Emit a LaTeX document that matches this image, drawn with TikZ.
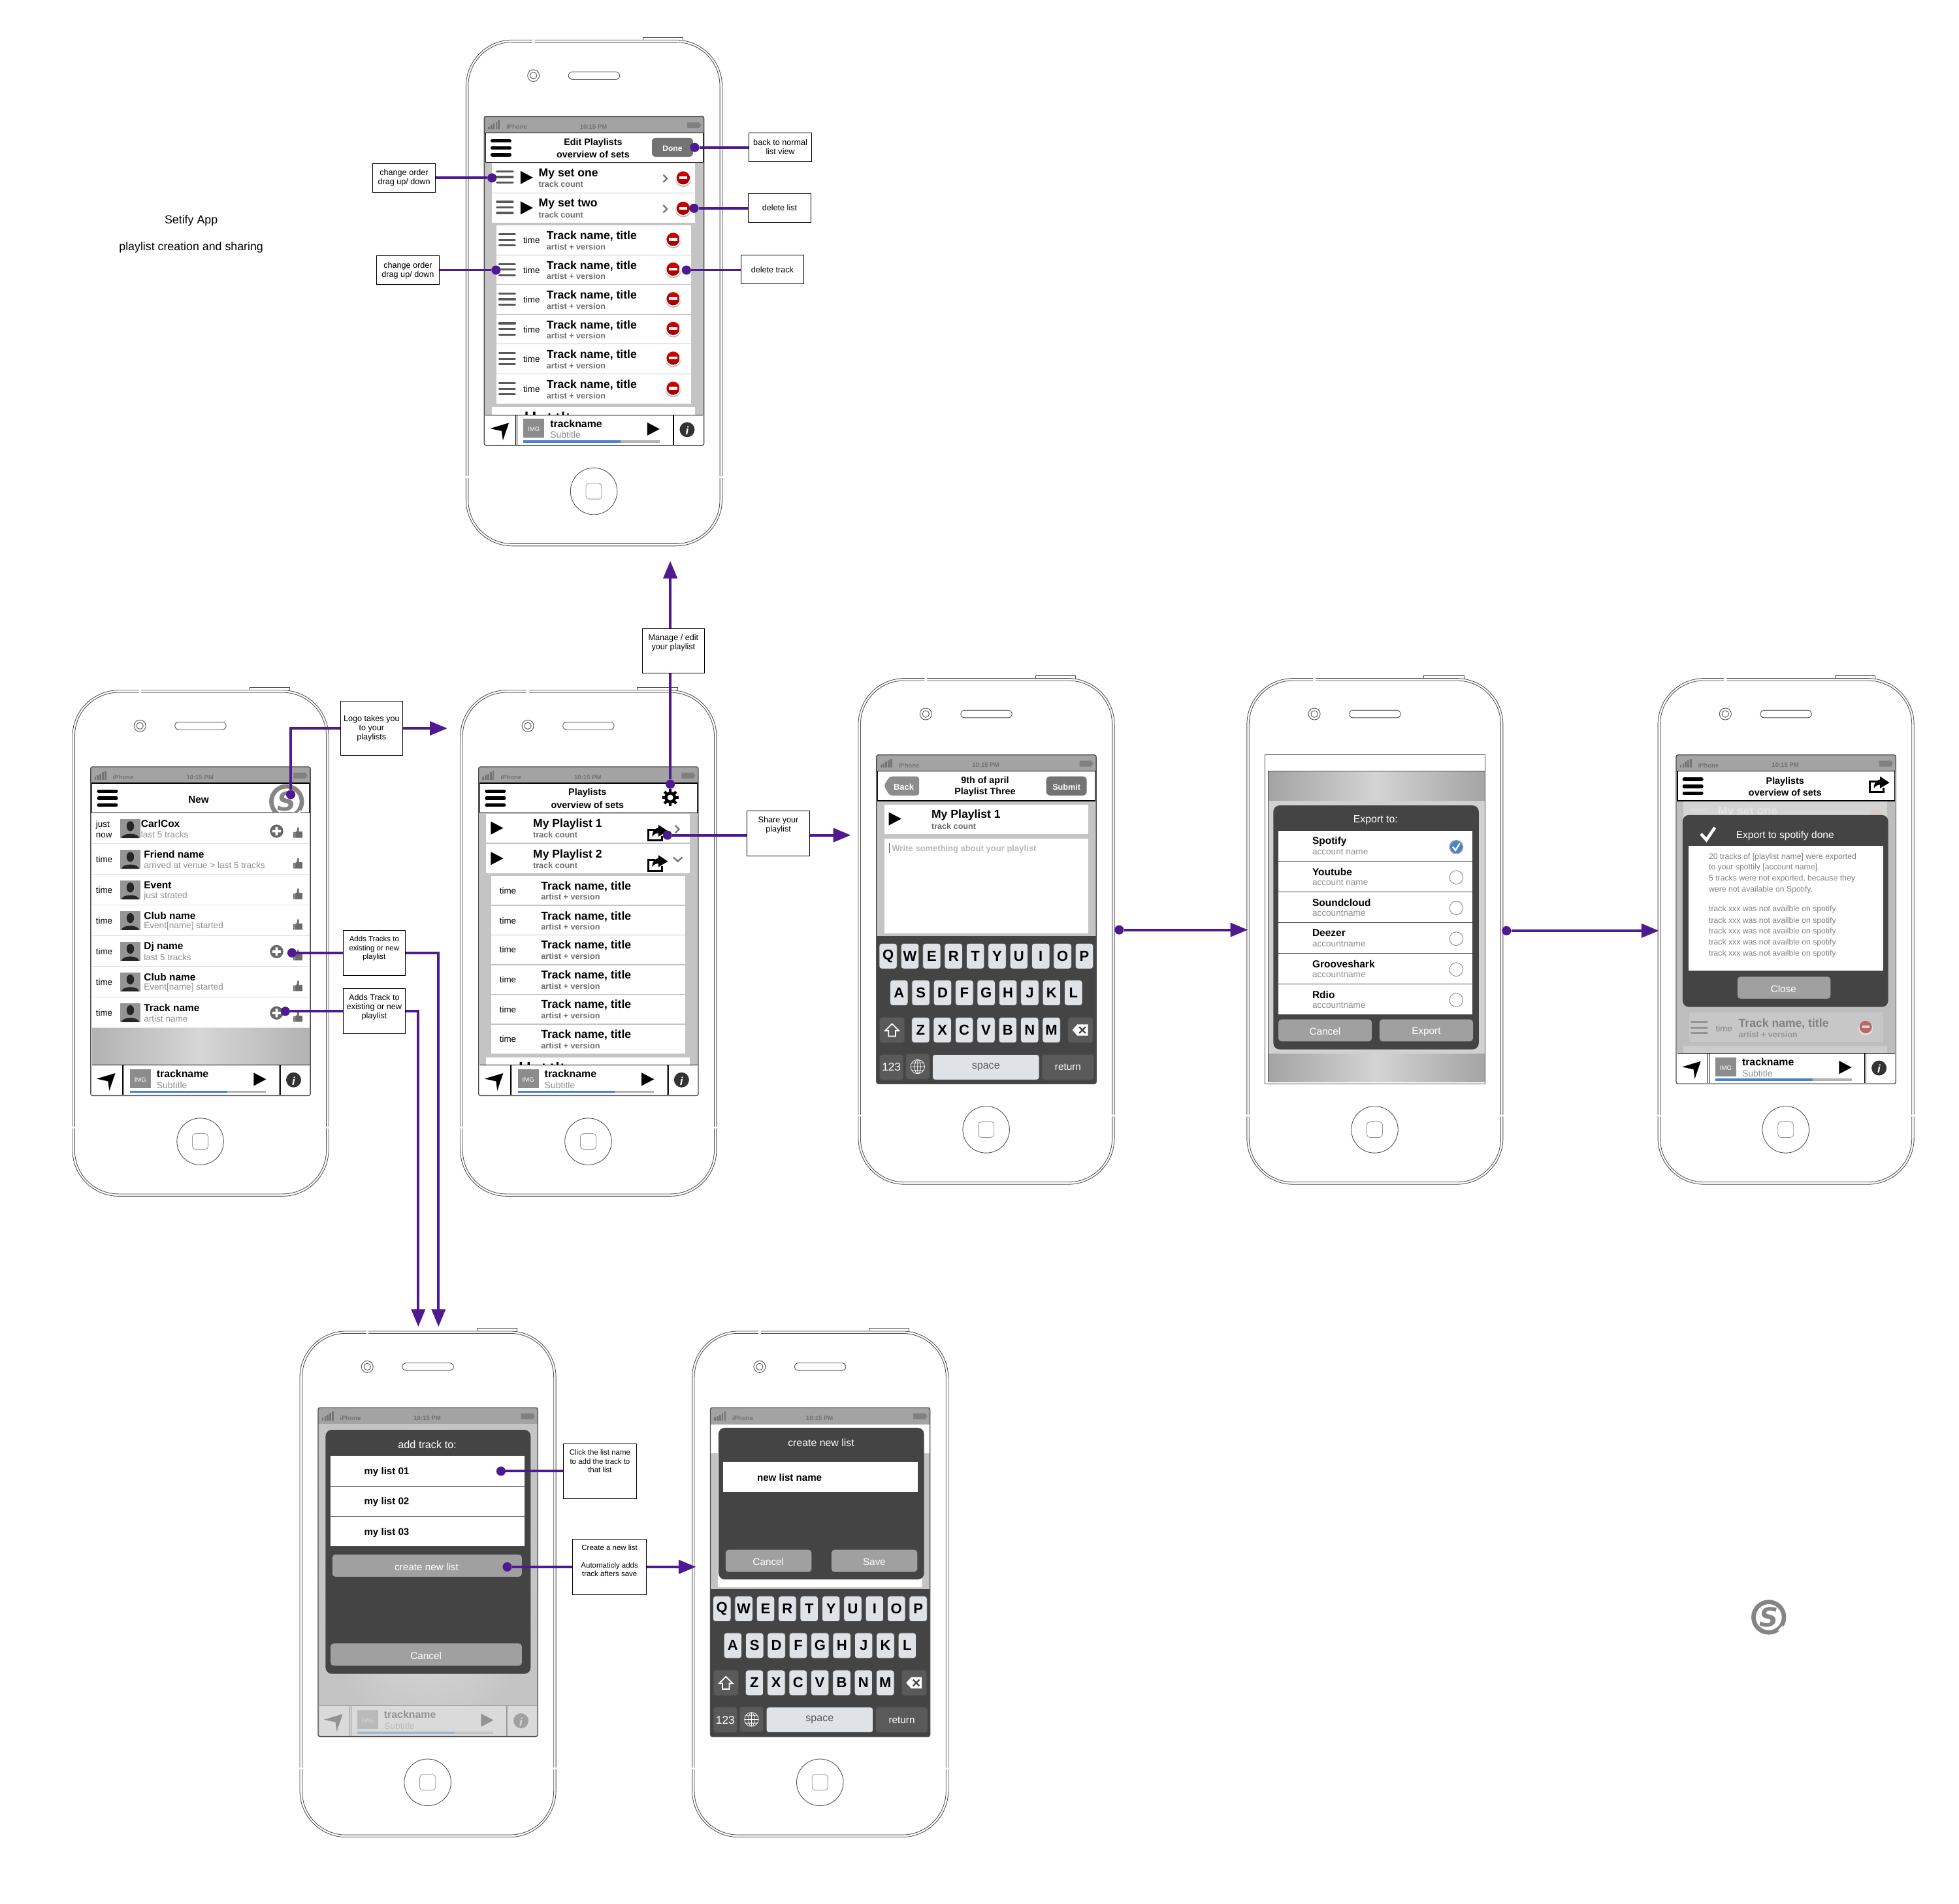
\documentclass[tikz,border=0pt]{standalone}
\usepackage{fontspec}
\setmainfont{Liberation Sans}
\newfontfamily\logofont{DejaVu Sans}
\usetikzlibrary{arrows.meta}

\definecolor{linkpurple}{HTML}{4F1A91}
\definecolor{panelgray}{HTML}{C4C4C4}
\definecolor{dialogdark}{HTML}{444444}
\definecolor{btngray}{HTML}{A0A0A0}
\definecolor{statusgray}{HTML}{A3A3A3}
\definecolor{logogray}{HTML}{858585}
\definecolor{keylight}{HTML}{DFE3E8}
\definecolor{keydark}{HTML}{5A5A5A}
\definecolor{subgray}{HTML}{6E6E6E}
\definecolor{softgray}{HTML}{8E8E8E}
\definecolor{bluebar}{HTML}{4A84C8}

\newcommand\fs[1]{\fontsize{#1}{#1}\selectfont}

\tikzset{
  every node/.style={inner sep=0pt},
  link/.style={draw=linkpurple,line width=2pt},
  linkarrow/.style={link,-{Triangle[length=14pt,width=11pt]}},
  dotmark/.style={circle,fill=linkpurple,minimum size=7.4pt},
  callout/.style={draw=black,fill=white,line width=.5pt,align=center,font=\fontsize{6.6}{7.4}\selectfont},
  tname/.style={anchor=west,font=\fs{9.2}\bfseries},
  tsub/.style={anchor=west,yshift=.8pt,font=\fs{6.6}\bfseries,text=subgray},
  feedname/.style={anchor=west,yshift=.5pt,font=\fs{8.1}\bfseries},
  feedsub/.style={anchor=west,yshift=.7pt,font=\fs{7.1},text=softgray},
  timelbl/.style={font=\fs{7}},
  navtitle/.style={align=center,yshift=.5pt,font=\fs{7.5}\bfseries},
  statustext/.style={font=\fs{5}\bfseries,text=black!55},
  btntext/.style={font=\fs{8},text=white},
  dlgtitle/.style={font=\fs{8.3},text=white},
  listitem/.style={anchor=west,font=\fs{7.9}\bfseries},
  infotext/.style={anchor=west,font=\fs{6.4},text=black!50},
  keycap/.style={yshift=.8pt,draw=black!70,fill=keylight,rounded corners=2pt,minimum width=14.3pt,minimum height=20.3pt,font=\fs{11.5}\bfseries},
  darkkey/.style={yshift=.8pt,draw=black!70,fill=keydark,rounded corners=2pt,minimum height=20.3pt,text=white},
  phoneline/.style={draw=black!70,line width=.45pt},
  tinybar/.style={line width=1.7pt,line cap=round},
  softband/.style={left color=black!36,right color=black!36,middle color=black!17},
}

\newcounter{lblno}
\newcommand\lbl[4][]{\stepcounter{lblno}\node[yshift=-.8pt,#1] (lbl\arabic{lblno}) at (#2,#3) {#4};}

% phone outline, camera, speaker and home key
\newcommand\phonebody{
  \draw[phoneline] (141.7,0) -- (141.7,-2.2) -- (173.7,-2.2) -- (173.7,0);
  \draw[phoneline,fill=white,rounded corners=37pt] (0,0) rectangle (205,405);
  \draw[phoneline,rounded corners=35pt] (1.8,1.8) rectangle (203.2,403.2);
  \fill[white] (53,-.5) rectangle (55,2.5) (-.5,349.3) rectangle (2.5,350.7) (202.5,349.3) rectangle (205.5,350.7);
  \draw[phoneline] (54,28.5) circle (4.7) (54,28.5) circle (2.7);
  \draw[phoneline,rounded corners=3pt] (82,25.5) rectangle (123,31.5);
  \draw[phoneline] (102.3,361.2) circle (18.7);
  \draw[draw=black!40,line width=.45pt,rounded corners=2.5pt] (96,354.9) rectangle (108.6,367.5);
}
\newcommand\statusbar{
  \fill[statusgray] (14.6,61.3) rectangle (190.4,75);
  \foreach \i in {0,...,4} {\fill[black!55] (17.6+\i*2,71.5) rectangle (19+\i*2,69.2-\i*1.2);}
  \lbl[statustext,anchor=west]{32}{68.8}{iPhone}
  \lbl[statustext]{102}{68.8}{10:15 PM}
  \fill[black!50] (177,65.9) rectangle (187,70.6) (187,67.4) rectangle (188,69);
}
\newcommand\menubars[3]{
  \draw[line width=#3,line cap=round] (#1,80.8) -- (#2,80.8) (#1,86.4) -- (#2,86.4) (#1,92) -- (#2,92);
}
\newcommand\navbar{
  \draw[fill=white,line width=.6pt] (15.6,74.4) rectangle (189.7,98);
}
\newcommand\handle[3][black!65]{
  \draw[tinybar,draw=#1] (#2,#3-4.5) -- ++(12.6,0) (#2,#3) -- ++(12.6,0) (#2,#3+4.5) -- ++(12.6,0);
}
\newcommand\playicon[3][black]{\fill[#1] (#2,#3-5.3) -- ++(10,5.3) -- ++(-10,5.3) -- cycle;}
\newcommand\chevron[2]{\draw[black!55,line width=1.2pt] (#1-1.5,#2-3) -- (#1+1.5,#2) -- (#1-1.5,#2+3);}
\newcommand\delicon[2]{
  \fill[black!25] (#1,#2+.9) circle (6.3);
  \fill[white] (#1,#2) circle (6.1);
  \shade[top color=red!85!black,bottom color=red!62!black] (#1,#2) circle (5.3);
  \fill[white] (#1-3.3,#2-1.1) rectangle (#1+3.3,#2+1.1);
}
\newcommand\plusicon[2]{
  \fill[black!60] (#1,#2) circle (5.3);
  \fill[white] (#1-3.4,#2-1) rectangle (#1+3.4,#2+1) (#1-1,#2-3.4) rectangle (#1+1,#2+3.4);
}
\newcommand\thumbicon[2]{
  \fill[black!58,shift={(#1,#2)}] (-3.6,-.5) rectangle (-2.6,4) (-2.2,-.5) -- (-.8,-1.3) -- (-.3,-4.4) -- (.8,-4.4) -- (.9,-1) -- (3.6,-1) -- (3.6,4) -- (-2.2,4) -- cycle;
}
\newcommand\avatar[2]{
  \fill[black!42] (#1,#2) rectangle ++(16,15);
  \fill[black!85] (#1+8,#2+5.5) ellipse (3 and 4);
  \fill[black!85] (#1+1,#2+15) .. controls (#1+1.5,#2+10.5) and (#1+14.5,#2+10.5) .. (#1+15,#2+15) -- cycle;
}
\newcommand\shareicon[2]{
  \begin{scope}[shift={(#1,#2)}]
    \draw[line width=1.5pt] (-1.5,-2.5) -- (-7,-2.5) -- (-7,6) -- (4,6) -- (4,2.5);
    \fill (8.5,-1.5) -- (1,-6.5) -- (1,-4) .. controls (-3,-3.5) and (-4,0) .. (-4,3) .. controls (-2.5,.5) and (0,.2) .. (1,.2) -- (1,3) -- cycle;
  \end{scope}
}
\newcommand\setifylogo[2]{
  \draw[logogray,line width=3.5pt] (#1,#2) circle (12.2);
  \fill[white] (#1+7.2,#2+10.8) -- (#1+11.2,#2+6.4) -- (#1+11.4,#2+11) -- cycle;
  \lbl[font=\logofont\fs{21}\bfseries\itshape,text=logogray,yshift=.8pt]{#1}{#2}{S}
}
\newcommand\setstub{
  \fill (47.5,297.6) rectangle (49.3,300) (53.7,297.6) rectangle (55.5,300) (66,298.8) rectangle (67.4,300) (72.6,298.8) rectangle (74,300) (77,297.6) rectangle (78.4,300) (81,298.8) rectangle (82.2,300);
}
\newcommand\playerbar{
  \fill[white] (15.6,300) rectangle (189.7,324);
  \draw[line width=.5pt] (15.6,300) -- (189.7,300) (40,300) -- (40,324) (41,300) -- (41,324) (165.6,300) -- (165.6,324) (166.4,300) -- (166.4,324);
  \fill (19.3,311) -- (34.3,306.5) -- (29.5,320.6) -- (28.5,313) -- cycle;
  \fill[black!45] (46,303.3) rectangle (62.7,318.5);
  \lbl[font=\fs{5},text=white]{54.3}{311}{IMG}
  \lbl[anchor=west,font=\fs{8.3}\bfseries]{67.2}{306.2}{trackname}
  \lbl[anchor=west,font=\fs{7.3},text=softgray]{67.2}{315.4}{Subtitle}
  \playicon{145}{311.4}
  \fill[black!30] (46,320.4) rectangle (155,322.4);
  \fill[bluebar] (46,320.4) rectangle (123.7,322.4);
  \fill[black!80] (177,311.9) circle (6);
  \lbl[font=\fs{9}\bfseries\itshape,text=white]{177}{311.9}{i}
}
\newcommand\screenedge{
  \draw[black!70,line width=.7pt,rounded corners=1.5pt] (14.6,61.3) rectangle (190.4,324.5);
}
\newcommand\setrow[3]{
  \fill[white] (20.5,#1) rectangle (183.5,#1+23.5);
  \playicon{#2}{#1+11.6}
  \lbl[tname]{58}{#1+7.8}{#3}
  \lbl[tsub]{58}{#1+17}{track count}
}
\newcommand\trackrow[2]{
  \fill[white] (24.6,#1) rectangle (180,#1+23.2);
  \lbl[timelbl]{#2}{#1+11}{time}
  \lbl[tname]{64.4}{#1+7.7}{Track name, title}
  \lbl[tsub]{64.4}{#1+17}{artist + version}
}
\newcommand\feedrow[4]{
  \fill[white] (15.6,#1) rectangle (189.7,#1+24.1);
  \avatar{38.3}{#1+4.9}
  \lbl[feedname]{#2}{#1+8.3}{#3}
  \lbl[feedsub]{#2}{#1+17}{#4}
  \thumbicon{180.4}{#1+15.7}
}
\newcommand\keyboard{
  \fill[dialogdark] (14.6,206.3) rectangle (190.2,324.2);
  \foreach \k [count=\i from 0] in {Q,W,E,R,T,Y,U,I,O,P} {\lbl[keycap]{\i*17.45+16.7+7.15}{222.3}{\k}}
  \foreach \k [count=\i from 0] in {A,S,D,F,G,H,J,K,L} {\lbl[keycap]{\i*17.45+25.4+7.15}{251.7}{\k}}
  \foreach \k [count=\i from 0] in {Z,X,C,V,B,N,M} {\lbl[keycap]{\i*17.45+42.7+7.15}{281.5}{\k}}
  \lbl[darkkey,minimum width=20pt]{27}{281.5}{}
  \draw[white,line width=.9pt] (27,276.5) -- (32.5,282) -- (29.8,282) -- (29.8,286.5) -- (24.2,286.5) -- (24.2,282) -- (21.5,282) -- cycle;
  \lbl[darkkey,minimum width=20pt]{177.8}{281.5}{}
  \fill[white] (171.3,281.5) -- (175.3,277) -- (183.8,277) -- (183.8,286) -- (175.3,286) -- cycle;
  \draw[dialogdark,line width=1.2pt] (176.8,279) -- (181.8,284) (176.8,284) -- (181.8,279);
  \lbl[darkkey,minimum width=19pt,font=\fs{9}]{26.5}{311.2}{123}
  \lbl[darkkey,minimum width=19pt]{47.5}{310.8}{}
  \draw[white,line width=.4pt] (47.5,310.8) circle (5.6) (47.5,310.8) ellipse (2.4 and 5.6) (41.9,310.8) -- (53.1,310.8) (42.7,307.8) -- (52.3,307.8) (42.7,313.8) -- (52.3,313.8) (47.5,305.2) -- (47.5,316.4);
  \lbl[keycap,minimum width=85.4pt,font=\fs{8.4},text=black!65]{102.1}{311.2}{space}
  \lbl[darkkey,minimum width=41.5pt,font=\fs{8}]{167.8}{311.2}{return}
}

\begin{document}
\begin{tikzpicture}[x=1pt,y=-1pt]
\useasboundingbox (0,0) rectangle (1568,1524);

\node[font=\fs{9.3}] (appname) at (153,176.6) {Setify App};
\node[font=\fs{9.3}] (apptag) at (153,198.3) {playlist creation and sharing};

% edit playlists
\begin{scope}[shift={(373,32)}]
  \phonebody
  \statusbar
  \fill[panelgray] (15,98) rectangle (190,300);
  \navbar
  \menubars{21}{35}{2.8pt}
  \lbl[navtitle]{101.7}{82}{Edit Playlists}
  \lbl[navtitle]{101.7}{91.4}{overview of sets}
  \fill[black!55,rounded corners=3pt] (148.8,78.3) rectangle (181.7,93.5);
  \lbl[font=\fs{6.3}\bfseries,text=white]{165.2}{86}{Done}
  \foreach \y/\t in {98.5/My set one,122.8/My set two} {
    \setrow{\y}{43.6}{\t}
    \handle{24.8}{\y+11.2}
    \chevron{159.4}{\y+12.4}
    \delicon{173.8}{\y+11.9}
  }
  \foreach \y in {148.6,172.4,196.1,219.9,243.7,267.8} {
    \trackrow{\y}{52.5}
    \handle{26.6}{\y+11.4}
    \delicon{165.8}{\y+11}
  }
  \fill[white] (20.5,293.5) rectangle (183.5,300);
  \setstub
  \playerbar
  \screenedge
\end{scope}

% new feed
\begin{scope}[shift={(58,552.5)}]
  \phonebody
  \statusbar
  \shade[left color=black!30,right color=black!30,middle color=black!16] (15.6,270) rectangle (189.7,300);
  \navbar
  \menubars{21}{35}{2.8pt}
  \lbl[font=\fs{8}\bfseries]{101}{86.7}{New}
  \setifylogo{171.4}{89.1}
  \foreach \y/\x/\t/\s [count=\i] in {98.4/54.7/CarlCox/last 5 tracks,123/57/Friend name/arrived at venue > last 5 tracks,147.5/57/Event/just strated,172/57/Club name/Event[name] started,196.6/57/Dj name/last 5 tracks,221.1/57/Club name/Event[name] started,245.7/57/Track name/artist name} {
    \feedrow{\y}{\x}{\t}{\s}
    \ifnum\i>1 \lbl[timelbl,anchor=west]{18.6}{\y+11.8}{time}\fi
    \draw[black!12,line width=.6pt] (15.6,\y+24.3) -- (189.7,\y+24.3);
  }
  \lbl[timelbl,anchor=west]{18.6}{107.2}{just}
  \lbl[timelbl,anchor=west]{18.6}{115.2}{now}
  \plusicon{163.4}{112.8}
  \plusicon{163.4}{209.2}
  \plusicon{163.4}{258.3}
  \playerbar
  \screenedge
\end{scope}

% playlists overview
\begin{scope}[shift={(368.5,552.5)}]
  \phonebody
  \statusbar
  \fill[panelgray] (15,98) rectangle (190,300);
  \navbar
  \menubars{21}{35}{2.8pt}
  \lbl[navtitle]{101.7}{82}{Playlists}
  \lbl[navtitle]{101.7}{91.7}{overview of sets}
  \fill (168,85.9) circle (4.7);
  \foreach \a in {0,45,...,315} {\draw[line width=2.2pt] (168,85.9) -- ++(\a:6.6);}
  \fill[white] (168,85.9) circle (2.3);
  \foreach \y/\t in {98.7/My Playlist 1,123/My Playlist 2} {
    \setrow{\y}{24.3}{\t}
    \shareicon{157.5}{\y+15.5}
  }
  \chevron{173.5}{111.2}
  \draw[black!55,line width=1.2pt] (170.5,133.7) -- (174,137) -- (177.5,133.7);
  \foreach \y in {148.6,172.6,196,220,243.6,267.6} {
    \trackrow{\y}{38}
  }
  \fill[white] (20.5,293.9) rectangle (183.5,300);
  \setstub
  \playerbar
  \screenedge
\end{scope}

% playlist description
\begin{scope}[shift={(687,543)}]
  \phonebody
  \statusbar
  \fill[panelgray] (15,98) rectangle (190,206.3);
  \navbar
  \fill[black!45,rounded corners=2pt] (25,78.5) -- (48.7,78.5) -- (48.7,93.7) -- (25,93.7) -- (20.4,86) -- cycle;
  \lbl[font=\fs{6.8}\bfseries,text=white]{36.4}{86}{Back}
  \fill[black!55,rounded corners=3pt] (150.4,78.5) rectangle (182.8,93.7);
  \lbl[font=\fs{6.6}\bfseries,text=white]{166.6}{86}{Submit}
  \lbl[navtitle]{101.4}{81.7}{9th of april}
  \lbl[navtitle]{101.4}{91}{Playlist Three}
  \fill[white] (21,101.2) rectangle (183.8,124.6);
  \playicon{24.4}{112.4}
  \lbl[tname]{58.4}{108.9}{My Playlist 1}
  \lbl[tsub]{58.4}{118.2}{track count}
  \fill[white] (21,128.4) rectangle (183.8,204.1);
  \draw[black!70,line width=.5pt] (25,132) -- (25,140);
  \lbl[anchor=west,font=\fs{6.8}\bfseries,text=black!28]{26.7}{135.8}{Write something about your playlist}
  \keyboard
  \screenedge
\end{scope}

% export choice
\begin{scope}[shift={(998,543)}]
  \phonebody
  \shade[softband] (17.2,74) rectangle (190.6,98);
  \shade[softband] (17.2,300.5) rectangle (190.6,323);
  \fill[black!18] (17.2,98) rectangle (190.6,300.5);
  \draw[black!70,line width=.6pt] (17.2,323) -- (17.2,74) -- (190.6,74);
  \fill[dialogdark,rounded corners=5pt] (21.2,101.7) rectangle (185.6,297);
  \lbl[dlgtitle]{103}{112.9}{Export to:}
  \foreach \y/\t/\s [count=\i] in {122.2/Spotify/account name,146.5/Youtube/account name,171/Soundcloud/accountname,195.6/Deezer/accountname,220.2/Grooveshark/accountname,244.7/Rdio/accountname} {
    \fill[white] (25.2,\y) rectangle (180.6,\y+24);
    \lbl[feedname]{52.2}{\y+8}{\t}
    \lbl[feedsub]{52.2}{\y+16.8}{\s}
    \draw[black!45,fill=white,line width=.5pt] (167.6,\y+12.8) circle (5.4);
  }
  \fill[bluebar] (167.6,135) circle (5);
  \draw[white,line width=1.2pt] (164.8,134.8) -- (167,137.6) -- (170.4,132);
  \fill[btngray,rounded corners=2.5pt] (25.2,273) rectangle (100,290.6);
  \fill[btngray,rounded corners=2.5pt] (106.2,273) rectangle (181,290.6);
  \lbl[btntext]{62.5}{282}{Cancel}
  \lbl[btntext]{143.6}{282}{Export}
  \draw[black!70,line width=.7pt] (14.6,324.5) -- (14.6,61.3) -- (190.6,61.3) -- (190.6,324.5) -- cycle;
\end{scope}

% export done
\begin{scope}[shift={(1327,543)}]
  \phonebody
  \statusbar
  \fill[black!26] (15,98) rectangle (190,300);
  \fill[black!17] (20.5,98) rectangle (183.5,112);
  \draw[tinybar,draw=black!14] (26,105) -- ++(13,0);
  \lbl[tname,text=black!11]{47.8}{106.2}{My set one}
  \fill[red!30!black!20] (174.4,110) circle (5.2);
  \navbar
  \menubars{21}{35}{2.8pt}
  \lbl[navtitle]{101.8}{82.4}{Playlists}
  \lbl[navtitle]{101.8}{91.2}{overview of sets}
  \shareicon{176.8}{85}
  \fill[black!22] (24.8,267.6) rectangle (180.2,291);
  \handle[black!42]{26.8}{279.5}
  \lbl[timelbl,text=black!50]{52.9}{279.5}{time}
  \lbl[tname,text=black!50]{64.4}{275.6}{Track name, title}
  \lbl[tsub,text=black!42]{64.4}{285}{artist + version}
  \fill[black!12] (166.3,280) circle (5.8);
  \fill[red!55!black!60] (166.3,279.1) circle (5);
  \fill[white!85!black] (163.4,278.1) rectangle (169.2,280.1);
  \fill[black!20] (20.5,294) rectangle (183.5,300);
  \fill[dialogdark,rounded corners=5pt] (19.8,109.4) rectangle (184.3,263);
  \draw[white,line width=2.4pt] (34.5,124.5) -- (38.8,129.3) -- (45.6,119.4);
  \lbl[font=\fs{8.1},text=white]{101.8}{124.9}{Export to spotify done}
  \fill[white] (24.3,134) rectangle (180.2,233.8);
  \foreach \y/\t in {142.2/20 tracks of [playlist name] were exported,150.5/to your spottily [account name].,159.6/5 tracks were not exported{,} because they,168.4/were not available on Spotify.,184.4/track xxx was not availble on spotify,193.5/track xxx was not availble on spotify,201.7/track xxx was not availble on spotify,210.8/track xxx was not availble on spotify,219.6/track xxx was not availble on spotify} {
    \lbl[infotext]{40.6}{\y}{\t}
  }
  \fill[btngray,rounded corners=2.5pt] (63.7,238.8) rectangle (138.2,256.4);
  \lbl[btntext]{100.5}{248}{Close}
  \playerbar
  \screenedge
\end{scope}

% add track
\begin{scope}[shift={(240,1065.5)}]
  \phonebody
  \statusbar
  \shade[inner color=black!12,outer color=black!23] (15,74.5) rectangle (190,324);
  \foreach \i in {0,...,7} {\draw[black!22,line width=.4pt] (15,98.5+\i*24.5) -- (190,98.5+\i*24.5);}
  \playerbar
  \fill[black!20,fill opacity=.72] (15,299.5) rectangle (190,324);
  \fill[dialogdark,rounded corners=5pt] (20.6,79) rectangle (184.7,274.3);
  \lbl[dlgtitle,font=\fs{8.5}]{102}{90.3}{add track to:}
  \foreach \y/\t in {99.8/my list 01,123.9/my list 02,148.2/my list 03} {
    \draw[black!70,fill=white,line width=.4pt] (24.3,\y) rectangle (180,\y+24.2);
    \lbl[listitem]{51.3}{\y+12.2}{\t}
  }
  \fill[btngray,rounded corners=2.5pt] (26,178.9) rectangle (177.7,196.6);
  \lbl[btntext]{101.4}{188}{create new list}
  \fill[btngray,rounded corners=2.5pt] (24.6,250) rectangle (177.7,267.8);
  \lbl[btntext]{101}{259}{Cancel}
  \screenedge
\end{scope}

% new list
\begin{scope}[shift={(554,1065.5)}]
  \phonebody
  \statusbar
  \fill[panelgray] (15,97.6) rectangle (190,206.5);
  \fill[white] (15.6,74.7) rectangle (189.7,97.6) (20.5,97.6) rectangle (184,205);
  \keyboard
  \fill[dialogdark,rounded corners=5pt] (21.1,77.4) rectangle (185.6,198.8);
  \lbl[dlgtitle]{103.2}{88.4}{create new list}
  \fill[white] (24.8,104.8) rectangle (180.5,128.8);
  \lbl[listitem]{51.8}{116.6}{new list name}
  \fill[btngray,rounded corners=2.5pt] (26.8,175) rectangle (95.5,192.8);
  \fill[btngray,rounded corners=2.5pt] (111.5,175) rectangle (180.2,192.8);
  \lbl[btntext]{61}{184}{Cancel}
  \lbl[btntext]{145.8}{184}{Save}
  \screenedge
\end{scope}

\setifylogo{1415.7}{1294.5}

% callouts
\node[callout,minimum width=50pt,minimum height=22.7pt] (boxNormal) at (624.6,117.8) {back to normal\\list view};
\node[callout,minimum width=50pt,minimum height=22.7pt] (boxOrderA) at (323.4,142.4) {change order\\drag up/ down};
\node[callout,minimum width=50pt,minimum height=23pt] (boxDelList) at (624,166.3) {delete list};
\node[callout,minimum width=50pt,minimum height=23pt] (boxOrderB) at (326.5,216.4) {change order\\drag up/ down};
\node[callout,minimum width=50pt,minimum height=23pt] (boxDelTrack) at (618.2,215.8) {delete track};
\node[callout,minimum width=50pt,minimum height=36pt] (boxManage) at (539,521) {Manage / edit\\your playlist\\[7pt]~};
\node[callout,minimum width=50pt,minimum height=43.5pt] (boxLogo) at (297.4,583) {Logo takes you\\to your\\playlists};
\node[callout,minimum width=50pt,minimum height=36pt] (boxShare) at (623,667) {Share your\\playlist\\[7pt]~};
\node[callout,minimum width=50pt,minimum height=35.8pt,font=\fontsize{6}{7}\selectfont] (boxTracks) at (299.5,762.7) {Adds Tracks to\\existing or new\\playlist\\[1pt]~};
\node[callout,minimum width=50pt,minimum height=36pt] (boxTrack) at (299.5,809.5) {Adds Track to\\existing or new\\playlist\\~};
\node[callout,minimum width=58.4pt,minimum height=44.3pt,font=\fontsize{6}{7}\selectfont] (boxClick) at (480.2,1177.6) {Click the list name\\to add the track to\\that list\\[9pt]~};
\node[callout,minimum width=59pt,minimum height=44.4pt,font=\fontsize{6}{7}\selectfont] (boxCreate) at (487.9,1254.2) {Create a new list\\[7pt]Automaticly adds\\track afters save\\[3pt]~};

% markers
\node[dotmark] (dDone) at (556,118) {};
\node[dotmark] (dOrderA) at (393.8,142.4) {};
\node[dotmark] (dDelList) at (555.5,166.7) {};
\node[dotmark] (dOrderB) at (397,216.2) {};
\node[dotmark] (dDelTrack) at (549.4,216.2) {};
\node[dotmark] (dGear) at (536.5,627.7) {};
\node[dotmark] (dLogo) at (232.7,636) {};
\node[dotmark] (dShare) at (534.2,668.5) {};
\node[dotmark] (dTracks) at (233.7,762.7) {};
\node[dotmark] (dTrack) at (228.4,809.5) {};
\node[dotmark] (dDescr) at (895.8,744.3) {};
\node[dotmark] (dExport) at (1205.8,745) {};
\node[dotmark] (dList) at (401,1177.6) {};
\node[dotmark] (dNew) at (406,1254.2) {};

% arrow ends
\coordinate (tipManage) at (536.5,449);
\coordinate (tipLogo) at (358.1,583);
\coordinate (tipShare) at (681,668.5);
\coordinate (tipTracks) at (351,1062);
\coordinate (tipTrack) at (334.8,1062);
\coordinate (tipDescr) at (998.8,744.3);
\coordinate (tipExport) at (1327.8,745);
\coordinate (tipNew) at (557.1,1254.2);

\draw[link] (dDone) -- (dDone -| boxNormal.west);
\draw[link] (dOrderA) -- (boxOrderA.east);
\draw[link] (dDelList) -- (dDelList -| boxDelList.west);
\draw[link] (dOrderB) -- (dOrderB -| boxOrderB.east);
\draw[link] (dDelTrack) -- (dDelTrack -| boxDelTrack.west);
\draw[link] (dGear) -- (dGear |- boxManage.south);
\draw[linkarrow] (dGear |- boxManage.north) -- (tipManage);
\draw[link] (dLogo) |- (boxLogo.west);
\draw[linkarrow] (boxLogo.east) -- (tipLogo);
\draw[link] (dShare) -- (dShare -| boxShare.west);
\draw[linkarrow] (dShare -| boxShare.east) -- (tipShare);
\draw[link] (dTracks) -- (boxTracks.west);
\draw[linkarrow] (boxTracks.east) -| (tipTracks);
\draw[link] (dTrack) -- (boxTrack.west);
\draw[linkarrow] (boxTrack.east) -| (tipTrack);
\draw[linkarrow] (dDescr) -- (tipDescr);
\draw[linkarrow] (dExport) -- (tipExport);
\draw[link] (dList) -- (boxClick.west);
\draw[link] (dNew) -- (boxCreate.west);
\draw[linkarrow] (boxCreate.east) -- (tipNew);
\end{tikzpicture}
\end{document}
